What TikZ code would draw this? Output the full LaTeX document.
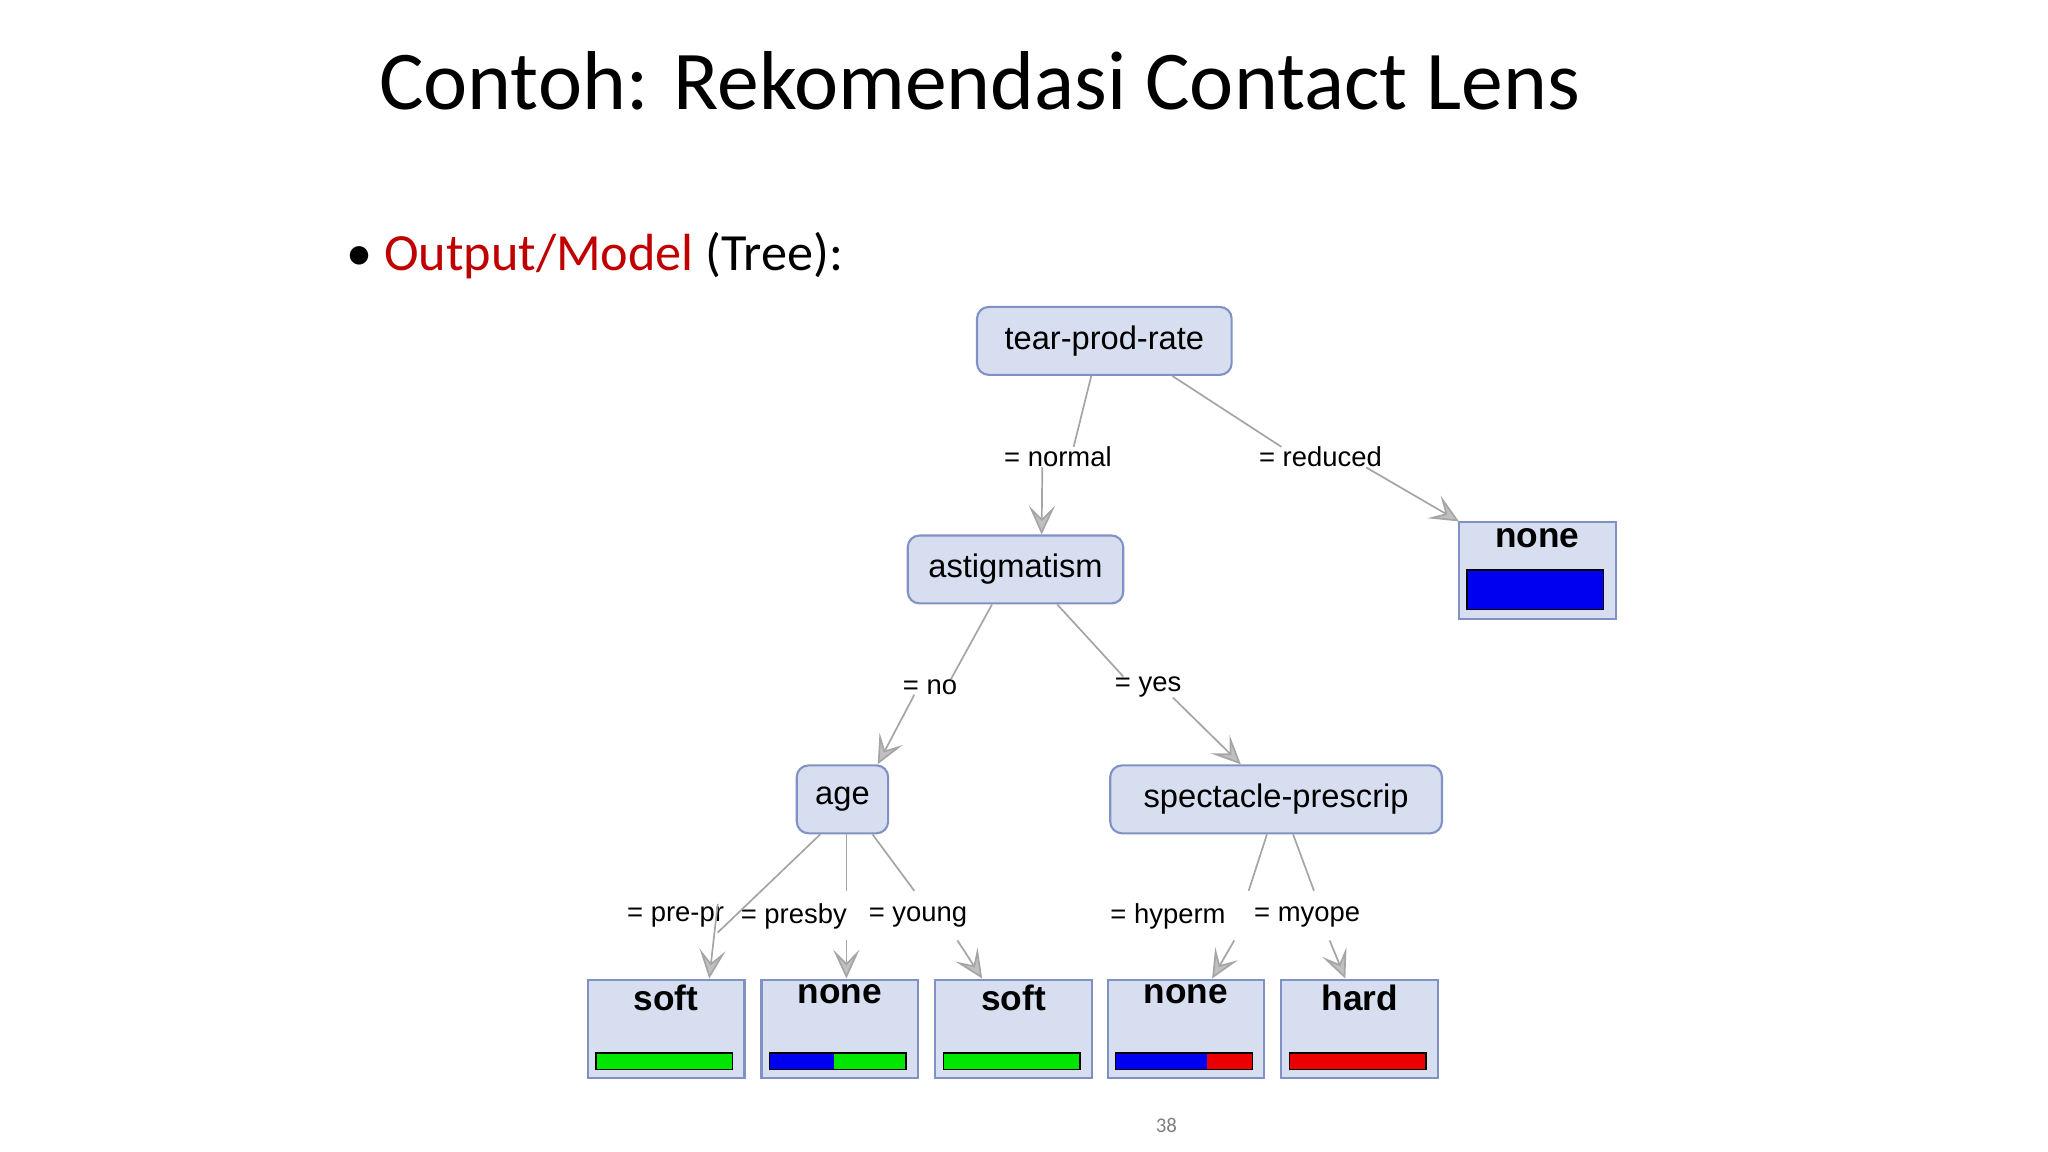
\documentclass[tikz,border=0pt]{standalone}
\usepackage{fontspec}
\setmainfont{Carlito}
\newfontfamily\treefont{Liberation Sans}
\usetikzlibrary{arrows.meta}
\definecolor{nodefill}{RGB}{214,222,240}
\definecolor{nodeborder}{RGB}{128,146,196}
\definecolor{edgegray}{RGB}{165,165,165}
\definecolor{darkred}{RGB}{192,0,0}
\definecolor{barblue}{RGB}{0,0,240}
\definecolor{bargreen}{RGB}{0,230,0}
\definecolor{barred}{RGB}{235,0,0}
\tikzset{
  inner/.style={draw=nodeborder, line width=1.6pt, fill=nodefill, rounded corners=9pt, inner sep=0pt, font=\treefont\fontsize{25}{25}\selectfont},
  leaf/.style={draw=nodeborder, line width=1.6pt, fill=nodefill, inner sep=0pt},
  leaftxt/.style={font=\treefont\bfseries\fontsize{27}{27}\selectfont},
  lbl/.style={font=\treefont\fontsize{21}{21}\selectfont, inner sep=9pt},
  edge/.style={draw=edgegray, line width=1.3pt},
  arr/.style={edge, -{Stealth[length=22pt,width=20pt,inset=10pt,open,fill=edgegray!70]}},
  bar/.style={draw=black, line width=1.2pt}
}
\begin{document}
\begin{tikzpicture}[x=1pt,y=-1pt]
\useasboundingbox[fill=white] (0,0) rectangle (1568,882);
\node[font=\fontsize{64}{64}\selectfont] (title) at (750,62) {Contoh: Rekomendasi Contact Lens};
\node[anchor=west, font=\fontsize{40}{40}\selectfont, inner sep=0pt] (bullet) at (265,196) {\textbullet\ \textcolor{darkred}{Output/Model} (Tree):};
% inner nodes
\node[inner, minimum width=195pt, minimum height=52pt] (tear) at (845.5,261) {tear-prod-rate};
\node[inner, minimum width=165pt, minimum height=52pt] (ast) at (777.5,436) {astigmatism};
\node[inner, minimum width=70pt, minimum height=52pt] (age) at (645,612) {age};
\node[inner, minimum width=254pt, minimum height=52pt] (spec) at (977,612) {spectacle-prescrip};
% leaves
\node[leaf, minimum width=120pt, minimum height=74pt] (lnone) at (1177,437) {};
\node[leaftxt, anchor=north] (lnonet) at ([yshift=-2pt]lnone.north) {none};
\filldraw[bar, fill=barblue] ([xshift=7pt,yshift=-37pt]lnone.north west) rectangle ([xshift=-10pt,yshift=8pt]lnone.south east);
\foreach \n/\x/\t in {l1/510/soft, l2/643/none, l3/776/soft, l4/908/none, l5/1041/hard}{
  \node[leaf, minimum width=120pt, minimum height=75pt] (\n) at (\x,787.5) {};
  \node[leaftxt, anchor=north] (\n t) at ([yshift=-1pt]\n.north) {\t};
}
\filldraw[bar, fill=bargreen] ([xshift=7pt,yshift=-57pt]l1.north west) rectangle ([xshift=-10pt,yshift=7pt]l1.south east);
\filldraw[bar, fill=bargreen] ([xshift=7pt,yshift=-57pt]l3.north west) rectangle ([xshift=-10pt,yshift=7pt]l3.south east);
\fill[barblue] ([xshift=7pt,yshift=-57pt]l2.north west) rectangle ([xshift=-65pt,yshift=7pt]l2.south east);
\fill[bargreen] ([xshift=-65pt,yshift=-57pt]l2.north east) rectangle ([xshift=-10pt,yshift=7pt]l2.south east);
\draw[bar] ([xshift=7pt,yshift=-57pt]l2.north west) rectangle ([xshift=-10pt,yshift=7pt]l2.south east);
\fill[barblue] ([xshift=7pt,yshift=-57pt]l4.north west) rectangle ([xshift=-45pt,yshift=7pt]l4.south east);
\fill[barred] ([xshift=-45pt,yshift=-57pt]l4.north east) rectangle ([xshift=-10pt,yshift=7pt]l4.south east);
\draw[bar] ([xshift=7pt,yshift=-57pt]l4.north west) rectangle ([xshift=-10pt,yshift=7pt]l4.south east);
\filldraw[bar, fill=barred] ([xshift=7pt,yshift=-57pt]l5.north west) rectangle ([xshift=-10pt,yshift=7pt]l5.south east);
% labels
\node[lbl] (lnormal) at (810,350) {= normal};
\node[lbl] (lreduced) at (1011,350) {= reduced};
\node[lbl] (lno) at (712,526) {= no};
\node[lbl] (lyes) at (879,526) {= yes};
\node[lbl, inner sep=0pt, anchor=west] (lpre) at (480,702) {= pre-pr};
\node[lbl, inner sep=0pt, anchor=west] (lpresby) at (567,702) {= presby};
\node[lbl, inner sep=0pt, anchor=west] (lyoung) at (665,702) {= young};
\node[lbl, inner sep=0pt, anchor=west] (lhyp) at (850,702) {= hyperm};
\node[lbl, inner sep=0pt, anchor=west] (lmyo) at (960,702) {= myope};
% edges
\draw[edge] ([xshift=-10pt]tear.south) -- ([xshift=12pt,yshift=-9pt]lnormal.north);
\draw[arr] ([xshift=-12pt,yshift=9pt]lnormal.south) -- ([xshift=20pt]ast.north);
\draw[edge] ([xshift=52pt]tear.south) -- ([xshift=-30pt,yshift=-9pt]lreduced.north);
\draw[arr] ([xshift=35pt,yshift=9pt]lreduced.south) -- ([xshift=-60pt]lnone.north);
\draw[edge] ([xshift=-18pt]ast.south) -- ([xshift=16pt,yshift=-9pt]lno.north);
\draw[arr] ([xshift=-12pt,yshift=9pt]lno.south) -- ([xshift=27pt]age.north);
\draw[edge] ([xshift=32pt]ast.south) -- ([xshift=-19pt,yshift=-9pt]lyes.north);
\draw[arr] ([xshift=19pt,yshift=9pt]lyes.south) -- ([xshift=-27pt]spec.north);
\draw[edge] ([xshift=-17pt]age.south) -- ([xshift=-5pt,yshift=-20pt]lpre.north east);
\draw[arr] ([xshift=-5pt,yshift=18pt]lpre.south east) -- ([xshift=33pt]l1.north);
\draw[edge] ([xshift=3pt]age.south) -- ([xshift=3pt]age.south |- 0,682);
\draw[arr] ([xshift=3pt]age.south |- 0,720) -- ([xshift=5pt]l2.north);
\draw[edge] ([xshift=23pt]age.south) -- (700,682);
\draw[arr] (733,720) -- ([xshift=-24pt]l3.north);
\draw[edge] ([xshift=-7pt]spec.south) -- (956,682);
\draw[arr] (945,720) -- ([xshift=20pt]l4.north);
\draw[edge] ([xshift=13pt]spec.south) -- (1006,682);
\draw[arr] (1018,720) -- ([xshift=-11pt]l5.north);
\node[text=gray, font=\fontsize{16}{16}\selectfont] (page) at (893,862) {38};
\end{tikzpicture}
\end{document}
